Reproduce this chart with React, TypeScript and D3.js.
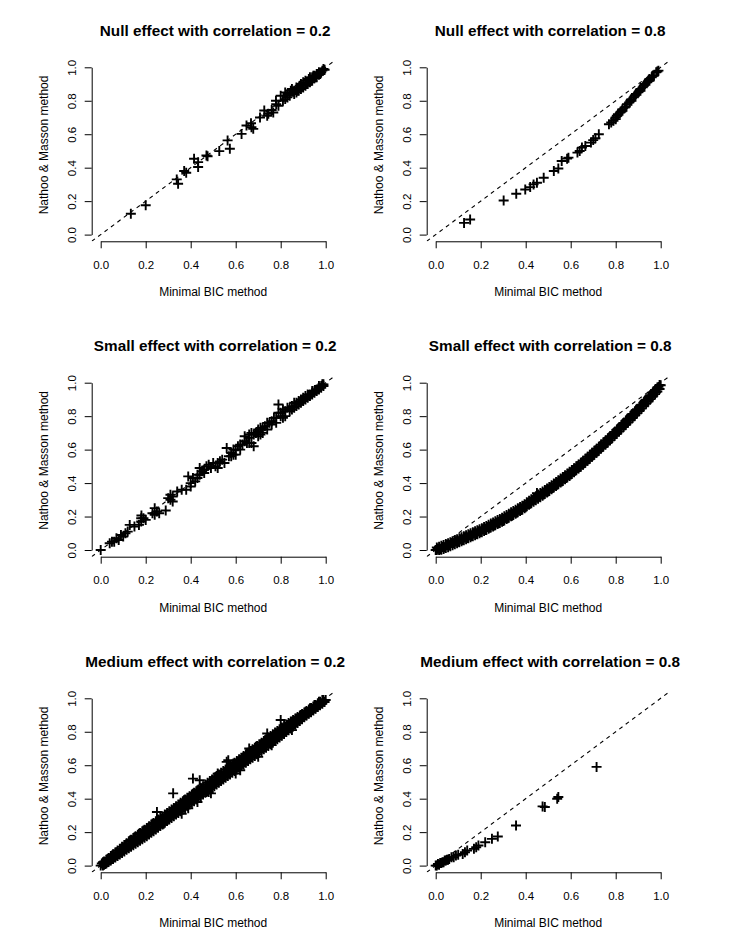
import { useEffect, useRef } from "react";
import * as d3 from "d3";

type Pt = [number, number];

// tick values shared by every panel
const ticks = [0, 0.2, 0.4, 0.6, 0.8, 1.0];
const tickLabels = ["0.0", "0.2", "0.4", "0.6", "0.8", "1.0"];

const titles = [
  "Null effect with correlation = 0.2",
  "Null effect with correlation = 0.8",
  "Small effect with correlation = 0.2",
  "Small effect with correlation = 0.8",
  "Medium effect with correlation = 0.2",
  "Medium effect with correlation = 0.8",
];

const xLabel = "Minimal BIC method";
const yLabel = "Nathoo & Masson method";

// points: [Minimal BIC, Nathoo & Masson]
const nullCorr02: Pt[] = [
  [0.134, 0.125], [0.2, 0.175], [0.338, 0.33], [0.344, 0.304], [0.371, 0.38], [0.38, 0.37],
  [0.415, 0.453], [0.433, 0.433], [0.433, 0.404], [0.47, 0.473], [0.475, 0.468], [0.527, 0.499],
  [0.564, 0.563], [0.574, 0.513], [0.626, 0.602], [0.648, 0.652], [0.668, 0.666], [0.67, 0.642],
  [0.678, 0.632], [0.708, 0.7], [0.727, 0.742], [0.745, 0.722], [0.74, 0.71], [0.767, 0.73],
  [0.779, 0.8], [0.78, 0.78], [0.76, 0.745], [0.79, 0.77], [0.8, 0.83], [0.81, 0.8],
  [0.82, 0.81], [0.82, 0.85], [0.83, 0.82], [0.84, 0.83], [0.845, 0.86], [0.85, 0.87],
  [0.86, 0.84], [0.86, 0.86], [0.87, 0.88], [0.875, 0.86], [0.88, 0.86], [0.885, 0.89],
  [0.89, 0.9], [0.9, 0.88], [0.9, 0.91], [0.91, 0.92], [0.915, 0.9], [0.92, 0.9],
  [0.925, 0.93], [0.93, 0.94], [0.935, 0.92], [0.94, 0.92], [0.945, 0.95], [0.95, 0.95],
  [0.955, 0.94], [0.96, 0.94], [0.965, 0.96], [0.97, 0.97], [0.975, 0.96], [0.98, 0.97],
  [0.985, 0.98], [0.99, 0.99], [0.995, 0.985], [0.97, 0.955], [0.95, 0.935], [0.93, 0.91],
  [0.83, 0.84], [0.87, 0.85], [0.89, 0.87], [0.91, 0.89], [0.94, 0.94], [0.96, 0.96],
];

const nullCorr08: Pt[] = [
  [0.126, 0.07], [0.153, 0.09], [0.302, 0.204], [0.358, 0.244], [0.398, 0.27], [0.42, 0.284],
  [0.435, 0.3], [0.45, 0.31], [0.48, 0.34], [0.525, 0.38], [0.545, 0.395], [0.56, 0.44],
  [0.584, 0.454], [0.59, 0.46], [0.63, 0.49], [0.64, 0.5], [0.65, 0.52], [0.665, 0.53],
  [0.69, 0.55], [0.7, 0.565], [0.71, 0.576], [0.725, 0.6], [0.77, 0.66], [0.78, 0.67],
  [0.79, 0.68], [0.8, 0.7], [0.805, 0.71], [0.81, 0.72], [0.82, 0.73], [0.825, 0.735],
  [0.83, 0.74], [0.84, 0.76], [0.845, 0.765], [0.85, 0.78], [0.86, 0.79], [0.865, 0.8],
  [0.87, 0.81], [0.88, 0.82], [0.885, 0.83], [0.89, 0.84], [0.9, 0.85], [0.905, 0.86],
  [0.91, 0.87], [0.92, 0.88], [0.925, 0.89], [0.93, 0.9], [0.94, 0.91], [0.945, 0.92],
  [0.95, 0.93], [0.96, 0.94], [0.965, 0.95], [0.97, 0.95], [0.98, 0.97], [0.985, 0.975],
  [0.99, 0.98], [0.8, 0.69], [0.83, 0.75], [0.87, 0.8], [0.91, 0.86], [0.95, 0.92],
];

const smallCorr02: Pt[] = [
  [0.0, 0.0], [0.04, 0.04], [0.06, 0.05], [0.07, 0.07], [0.08, 0.06], [0.09, 0.09],
  [0.1, 0.08], [0.11, 0.1], [0.129, 0.15], [0.17, 0.15], [0.18, 0.17], [0.181, 0.206],
  [0.19, 0.19], [0.2, 0.18], [0.24, 0.21], [0.24, 0.25], [0.25, 0.23], [0.26, 0.22],
  [0.289, 0.236], [0.31, 0.3], [0.31, 0.33], [0.32, 0.32], [0.32, 0.29], [0.34, 0.35],
  [0.36, 0.36], [0.38, 0.36], [0.389, 0.44], [0.4, 0.38], [0.4, 0.4], [0.41, 0.43],
  [0.42, 0.41], [0.43, 0.45], [0.44, 0.49], [0.45, 0.47], [0.46, 0.46], [0.47, 0.5],
  [0.48, 0.51], [0.49, 0.49], [0.5, 0.52], [0.51, 0.5], [0.52, 0.49], [0.53, 0.53],
  [0.55, 0.52], [0.56, 0.61], [0.57, 0.56], [0.58, 0.58], [0.59, 0.6], [0.6, 0.57],
  [0.61, 0.62], [0.62, 0.6], [0.64, 0.68], [0.65, 0.64], [0.66, 0.67], [0.67, 0.64],
  [0.68, 0.62], [0.69, 0.7], [0.7, 0.68], [0.71, 0.73], [0.72, 0.7], [0.73, 0.74],
  [0.74, 0.72], [0.75, 0.76], [0.76, 0.75], [0.77, 0.79], [0.78, 0.76], [0.79, 0.82],
  [0.79, 0.87], [0.8, 0.8], [0.81, 0.84], [0.82, 0.8], [0.83, 0.85], [0.84, 0.83],
  [0.85, 0.86], [0.86, 0.85], [0.87, 0.88], [0.88, 0.87], [0.89, 0.9], [0.9, 0.89],
  [0.91, 0.92], [0.92, 0.91], [0.93, 0.93], [0.94, 0.94], [0.95, 0.95], [0.96, 0.95],
  [0.97, 0.97], [0.98, 0.98], [0.99, 0.99], [0.82, 0.83], [0.86, 0.88], [0.9, 0.91],
  [0.94, 0.93], [0.97, 0.96], [0.66, 0.69], [0.7, 0.72], [0.74, 0.76], [0.63, 0.63],
  [0.84, 0.85], [0.85, 0.84], [0.87, 0.86], [0.88, 0.89], [0.89, 0.88], [0.9, 0.9],
  [0.91, 0.9], [0.92, 0.93], [0.93, 0.92], [0.94, 0.95], [0.95, 0.94], [0.96, 0.96],
  [0.97, 0.98], [0.98, 0.97], [0.99, 0.98], [0.985, 0.99], [0.8, 0.82], [0.81, 0.79],
  [0.78, 0.79], [0.76, 0.77], [0.72, 0.73], [0.68, 0.69], [0.67, 0.7], [0.64, 0.65],
  [0.6, 0.6], [0.58, 0.56], [0.54, 0.54], [0.52, 0.52], [0.46, 0.48], [0.44, 0.45],
  [0.43, 0.43], [0.3, 0.31], [0.23, 0.22], [0.18, 0.19], [0.15, 0.14], [0.12, 0.11],
  [0.05, 0.05], [0.62, 0.63], [0.7, 0.71], [0.59, 0.57], [0.66, 0.64], [0.71, 0.69],
];

// centre of the band
const smallCorr08: Pt[] = [
  [0.0, 0.0], [0.01, 0.008], [0.02, 0.005], [0.03, 0.018], [0.04, 0.015], [0.05, 0.03],
  [0.06, 0.028], [0.07, 0.042], [0.08, 0.04], [0.09, 0.053], [0.1, 0.05], [0.11, 0.064],
  [0.12, 0.06], [0.13, 0.076], [0.14, 0.072], [0.15, 0.088], [0.16, 0.084], [0.17, 0.1],
  [0.18, 0.096], [0.19, 0.112], [0.2, 0.108], [0.21, 0.124], [0.22, 0.12], [0.23, 0.137],
  [0.24, 0.133], [0.25, 0.15], [0.26, 0.146], [0.27, 0.164], [0.28, 0.16], [0.29, 0.178],
  [0.3, 0.174], [0.31, 0.193], [0.32, 0.19], [0.33, 0.209], [0.34, 0.205], [0.35, 0.226],
  [0.36, 0.222], [0.37, 0.243], [0.38, 0.239], [0.39, 0.262], [0.4, 0.256], [0.41, 0.28],
  [0.42, 0.276], [0.43, 0.298], [0.44, 0.31], [0.45, 0.34], [0.46, 0.318], [0.47, 0.336],
  [0.48, 0.332], [0.49, 0.355], [0.5, 0.35], [0.51, 0.374], [0.52, 0.37], [0.53, 0.393],
  [0.54, 0.39], [0.55, 0.414], [0.56, 0.41], [0.57, 0.435], [0.58, 0.431], [0.59, 0.456],
  [0.6, 0.452], [0.61, 0.478], [0.62, 0.474], [0.63, 0.5], [0.64, 0.496], [0.65, 0.523],
  [0.66, 0.519], [0.67, 0.546], [0.68, 0.542], [0.69, 0.57], [0.7, 0.566], [0.71, 0.594],
  [0.72, 0.59], [0.73, 0.619], [0.74, 0.615], [0.75, 0.645], [0.76, 0.64], [0.77, 0.671],
  [0.78, 0.667], [0.79, 0.698], [0.8, 0.694], [0.81, 0.725], [0.82, 0.721], [0.83, 0.752],
  [0.84, 0.748], [0.85, 0.78], [0.86, 0.776], [0.87, 0.808], [0.88, 0.804], [0.89, 0.836],
  [0.9, 0.832], [0.91, 0.864], [0.92, 0.86], [0.93, 0.892], [0.94, 0.888], [0.95, 0.92],
  [0.96, 0.916], [0.97, 0.948], [0.98, 0.944], [0.99, 0.975], [1.0, 0.985],
];

// lower and upper edge of the same band
const smallCorr08Low: Pt[] = [
  [0.005, 0], [0.015, 0], [0.025, 0.001], [0.035, 0.006], [0.045, 0.012], [0.055, 0.017],
  [0.065, 0.023], [0.075, 0.028], [0.085, 0.034], [0.095, 0.04], [0.105, 0.046], [0.115, 0.052],
  [0.125, 0.058], [0.135, 0.064], [0.145, 0.07], [0.155, 0.076], [0.165, 0.082], [0.175, 0.088],
  [0.185, 0.094], [0.195, 0.1], [0.205, 0.106], [0.215, 0.113], [0.225, 0.12], [0.235, 0.127],
  [0.245, 0.134], [0.255, 0.141], [0.265, 0.148], [0.275, 0.155], [0.285, 0.162], [0.295, 0.169],
  [0.305, 0.177], [0.315, 0.185], [0.325, 0.193], [0.335, 0.201], [0.345, 0.209], [0.355, 0.217],
  [0.365, 0.225], [0.375, 0.233], [0.385, 0.241], [0.395, 0.25], [0.405, 0.262], [0.415, 0.271],
  [0.425, 0.28], [0.435, 0.289], [0.445, 0.298], [0.455, 0.307], [0.465, 0.316], [0.475, 0.325],
  [0.485, 0.334], [0.495, 0.343], [0.505, 0.353], [0.515, 0.363], [0.525, 0.373], [0.535, 0.383],
  [0.545, 0.393], [0.555, 0.403], [0.565, 0.413], [0.575, 0.423], [0.585, 0.433], [0.595, 0.443],
  [0.605, 0.454], [0.615, 0.465], [0.625, 0.476], [0.635, 0.487], [0.645, 0.498], [0.655, 0.51],
  [0.665, 0.521], [0.675, 0.533], [0.685, 0.545], [0.695, 0.557], [0.705, 0.569], [0.715, 0.581],
  [0.725, 0.593], [0.735, 0.606], [0.745, 0.618], [0.755, 0.631], [0.765, 0.643], [0.775, 0.656],
  [0.785, 0.669], [0.795, 0.682], [0.805, 0.695], [0.815, 0.708], [0.825, 0.722], [0.835, 0.735],
  [0.845, 0.749], [0.855, 0.762], [0.865, 0.776], [0.875, 0.789], [0.885, 0.803], [0.895, 0.817],
  [0.905, 0.831], [0.915, 0.845], [0.925, 0.859], [0.935, 0.874], [0.945, 0.888], [0.955, 0.902],
  [0.965, 0.917], [0.975, 0.932], [0.985, 0.947], [0.995, 0.962],
];

const smallCorr08High: Pt[] = [
  [0.005, 0.015], [0.015, 0.02], [0.025, 0.025], [0.035, 0.03], [0.045, 0.036], [0.055, 0.041],
  [0.065, 0.047], [0.075, 0.052], [0.085, 0.058], [0.095, 0.064], [0.105, 0.07], [0.115, 0.076],
  [0.125, 0.082], [0.135, 0.088], [0.145, 0.094], [0.155, 0.1], [0.165, 0.106], [0.175, 0.112],
  [0.185, 0.118], [0.195, 0.124], [0.205, 0.13], [0.215, 0.137], [0.225, 0.144], [0.235, 0.151],
  [0.245, 0.158], [0.255, 0.165], [0.265, 0.172], [0.275, 0.179], [0.285, 0.186], [0.295, 0.193],
  [0.305, 0.201], [0.315, 0.209], [0.325, 0.217], [0.335, 0.225], [0.345, 0.233], [0.355, 0.241],
  [0.365, 0.249], [0.375, 0.257], [0.385, 0.265], [0.395, 0.274], [0.405, 0.286], [0.415, 0.295],
  [0.425, 0.304], [0.435, 0.313], [0.445, 0.322], [0.455, 0.331], [0.465, 0.34], [0.475, 0.349],
  [0.485, 0.358], [0.495, 0.367], [0.505, 0.377], [0.515, 0.387], [0.525, 0.397], [0.535, 0.407],
  [0.545, 0.417], [0.555, 0.427], [0.565, 0.437], [0.575, 0.447], [0.585, 0.457], [0.595, 0.467],
  [0.605, 0.478], [0.615, 0.489], [0.625, 0.5], [0.635, 0.511], [0.645, 0.522], [0.655, 0.534],
  [0.665, 0.545], [0.675, 0.557], [0.685, 0.569], [0.695, 0.581], [0.705, 0.593], [0.715, 0.605],
  [0.725, 0.617], [0.735, 0.63], [0.745, 0.642], [0.755, 0.655], [0.765, 0.667], [0.775, 0.68],
  [0.785, 0.693], [0.795, 0.706], [0.805, 0.719], [0.815, 0.732], [0.825, 0.746], [0.835, 0.759],
  [0.845, 0.773], [0.855, 0.786], [0.865, 0.8], [0.875, 0.813], [0.885, 0.827], [0.895, 0.841],
  [0.905, 0.855], [0.915, 0.869], [0.925, 0.883], [0.935, 0.898], [0.945, 0.912], [0.955, 0.926],
  [0.965, 0.941], [0.975, 0.956], [0.985, 0.971], [0.995, 0.986],
];

const mediumCorr02: Pt[] = [
  [0.0, 0.0], [0.01, 0.0], [0.01, 0.02], [0.02, 0.01], [0.03, 0.02], [0.03, 0.04], [0.04, 0.03],
  [0.05, 0.04], [0.05, 0.06], [0.06, 0.05], [0.07, 0.06], [0.07, 0.08], [0.08, 0.07], [0.09, 0.08],
  [0.09, 0.1], [0.1, 0.09], [0.11, 0.1], [0.11, 0.12], [0.12, 0.11], [0.13, 0.12], [0.13, 0.15],
  [0.14, 0.13], [0.15, 0.14], [0.15, 0.17], [0.16, 0.15], [0.17, 0.16], [0.17, 0.19], [0.18, 0.17],
  [0.19, 0.18], [0.19, 0.21], [0.2, 0.19], [0.21, 0.2], [0.21, 0.22], [0.22, 0.21], [0.23, 0.22],
  [0.23, 0.25], [0.24, 0.23], [0.25, 0.24], [0.25, 0.27], [0.26, 0.25], [0.27, 0.26], [0.27, 0.28],
  [0.28, 0.27], [0.29, 0.27], [0.29, 0.3], [0.3, 0.29], [0.31, 0.29], [0.31, 0.32], [0.32, 0.31],
  [0.33, 0.32], [0.33, 0.34], [0.34, 0.33], [0.35, 0.33], [0.35, 0.36], [0.36, 0.35], [0.37, 0.36],
  [0.37, 0.39], [0.38, 0.37], [0.39, 0.38], [0.39, 0.4], [0.4, 0.39], [0.41, 0.4], [0.41, 0.43],
  [0.42, 0.41], [0.43, 0.42], [0.43, 0.45], [0.44, 0.43], [0.45, 0.44], [0.45, 0.46], [0.46, 0.45],
  [0.47, 0.44], [0.47, 0.47], [0.48, 0.47], [0.49, 0.48], [0.49, 0.5], [0.5, 0.49], [0.51, 0.5],
  [0.51, 0.53], [0.52, 0.51], [0.53, 0.52], [0.53, 0.54], [0.54, 0.53], [0.55, 0.53], [0.55, 0.56],
  [0.56, 0.55], [0.57, 0.56], [0.57, 0.58], [0.58, 0.57], [0.59, 0.58], [0.59, 0.61], [0.6, 0.59],
  [0.61, 0.6], [0.61, 0.62], [0.62, 0.61], [0.63, 0.61], [0.63, 0.64], [0.64, 0.63], [0.65, 0.64],
  [0.65, 0.67], [0.66, 0.65], [0.67, 0.66], [0.67, 0.68], [0.68, 0.67], [0.69, 0.68], [0.69, 0.71],
  [0.7, 0.69], [0.71, 0.7], [0.71, 0.72], [0.72, 0.71], [0.73, 0.72], [0.73, 0.75], [0.74, 0.73],
  [0.75, 0.74], [0.75, 0.76], [0.76, 0.75], [0.77, 0.76], [0.77, 0.78], [0.78, 0.77], [0.79, 0.78],
  [0.79, 0.8], [0.8, 0.79], [0.81, 0.8], [0.81, 0.82], [0.82, 0.81], [0.83, 0.82], [0.83, 0.84],
  [0.84, 0.83], [0.85, 0.84], [0.85, 0.86], [0.86, 0.85], [0.87, 0.86], [0.87, 0.88], [0.88, 0.87],
  [0.89, 0.88], [0.89, 0.9], [0.9, 0.89], [0.91, 0.9], [0.91, 0.92], [0.92, 0.91], [0.93, 0.92],
  [0.93, 0.94], [0.94, 0.93], [0.95, 0.94], [0.95, 0.96], [0.96, 0.95], [0.97, 0.96], [0.97, 0.98],
  [0.98, 0.97], [0.99, 0.98], [0.99, 0.99], [1.0, 0.99],
  // stragglers off the band
  [0.322, 0.432], [0.41, 0.52], [0.44, 0.51], [0.25, 0.32], [0.567, 0.63], [0.56, 0.62],
  [0.8, 0.87], [0.389, 0.343], [0.43, 0.38], [0.49, 0.432], [0.48, 0.44], [0.36, 0.31],
  [0.28, 0.25], [0.62, 0.57], [0.6, 0.55], [0.7, 0.65], [0.76, 0.72], [0.85, 0.81],
  [0.74, 0.79], [0.52, 0.55], [0.66, 0.7],
];

const mediumCorr02Low: Pt[] = [
  [0.015, 0.005], [0.025, 0.013], [0.035, 0.022], [0.045, 0.031], [0.055, 0.04], [0.065, 0.049],
  [0.075, 0.058], [0.085, 0.067], [0.095, 0.076], [0.105, 0.085], [0.115, 0.094], [0.125, 0.103],
  [0.135, 0.112], [0.145, 0.121], [0.155, 0.13], [0.165, 0.139], [0.175, 0.148], [0.185, 0.157],
  [0.195, 0.166], [0.205, 0.176], [0.215, 0.186], [0.225, 0.196], [0.235, 0.206], [0.245, 0.216],
  [0.255, 0.226], [0.265, 0.236], [0.275, 0.246], [0.285, 0.256], [0.295, 0.266], [0.305, 0.275],
  [0.315, 0.285], [0.325, 0.295], [0.335, 0.305], [0.345, 0.315], [0.355, 0.325], [0.365, 0.335],
  [0.375, 0.345], [0.385, 0.355], [0.395, 0.365], [0.405, 0.375], [0.415, 0.385], [0.425, 0.395],
  [0.435, 0.405], [0.445, 0.415], [0.455, 0.425], [0.465, 0.435], [0.475, 0.445], [0.485, 0.455],
  [0.495, 0.465], [0.505, 0.475], [0.515, 0.485], [0.525, 0.495], [0.535, 0.505], [0.545, 0.515],
  [0.555, 0.525], [0.565, 0.535], [0.575, 0.545], [0.585, 0.555], [0.595, 0.565], [0.605, 0.575],
  [0.615, 0.585], [0.625, 0.595], [0.635, 0.605], [0.645, 0.615], [0.655, 0.625], [0.665, 0.635],
  [0.675, 0.645], [0.685, 0.655], [0.695, 0.665], [0.705, 0.675], [0.715, 0.685], [0.725, 0.695],
  [0.735, 0.705], [0.745, 0.715], [0.755, 0.725], [0.765, 0.735], [0.775, 0.745], [0.785, 0.755],
  [0.795, 0.765], [0.805, 0.776], [0.815, 0.787], [0.825, 0.798], [0.835, 0.809], [0.845, 0.82],
  [0.855, 0.831], [0.865, 0.842], [0.875, 0.853], [0.885, 0.864], [0.895, 0.875], [0.905, 0.886],
  [0.915, 0.897], [0.925, 0.907], [0.935, 0.917], [0.945, 0.927], [0.955, 0.937], [0.965, 0.948],
  [0.975, 0.958], [0.985, 0.968], [0.995, 0.978],
];

const mediumCorr02High: Pt[] = [
  [0.005, 0.013], [0.015, 0.024], [0.025, 0.035], [0.035, 0.046], [0.045, 0.057], [0.055, 0.068],
  [0.065, 0.079], [0.075, 0.09], [0.085, 0.101], [0.095, 0.112], [0.105, 0.123], [0.115, 0.134],
  [0.125, 0.145], [0.135, 0.155], [0.145, 0.165], [0.155, 0.175], [0.165, 0.185], [0.175, 0.195],
  [0.185, 0.205], [0.195, 0.215], [0.205, 0.225], [0.215, 0.235], [0.225, 0.245], [0.235, 0.255],
  [0.245, 0.265], [0.255, 0.275], [0.265, 0.285], [0.275, 0.295], [0.285, 0.305], [0.295, 0.315],
  [0.305, 0.325], [0.315, 0.335], [0.325, 0.345], [0.335, 0.355], [0.345, 0.365], [0.355, 0.375],
  [0.365, 0.385], [0.375, 0.395], [0.385, 0.405], [0.395, 0.415], [0.405, 0.425], [0.415, 0.435],
  [0.425, 0.445], [0.435, 0.455], [0.445, 0.465], [0.455, 0.475], [0.465, 0.485], [0.475, 0.495],
  [0.485, 0.505], [0.495, 0.515], [0.505, 0.525], [0.515, 0.535], [0.525, 0.545], [0.535, 0.555],
  [0.545, 0.565], [0.555, 0.575], [0.565, 0.585], [0.575, 0.595], [0.585, 0.605], [0.595, 0.615],
  [0.605, 0.625], [0.615, 0.635], [0.625, 0.645], [0.635, 0.655], [0.645, 0.665], [0.655, 0.675],
  [0.665, 0.685], [0.675, 0.695], [0.685, 0.705], [0.695, 0.715], [0.705, 0.725], [0.715, 0.735],
  [0.725, 0.745], [0.735, 0.755], [0.745, 0.765], [0.755, 0.775], [0.765, 0.785], [0.775, 0.795],
  [0.785, 0.805], [0.795, 0.815], [0.805, 0.825], [0.815, 0.834], [0.825, 0.843], [0.835, 0.852],
  [0.845, 0.861], [0.855, 0.87], [0.865, 0.879], [0.875, 0.888], [0.885, 0.897], [0.895, 0.906],
  [0.905, 0.915], [0.915, 0.924], [0.925, 0.933], [0.935, 0.942], [0.945, 0.951], [0.955, 0.96],
  [0.965, 0.97], [0.975, 0.98], [0.985, 0.99],
];

const mediumCorr08: Pt[] = [
  [0.0, 0.0], [0.005, 0.0], [0.01, 0.01], [0.015, 0.005], [0.02, 0.015], [0.025, 0.015],
  [0.03, 0.02], [0.035, 0.02], [0.04, 0.03], [0.045, 0.03], [0.05, 0.035], [0.055, 0.035],
  [0.06, 0.04], [0.07, 0.05], [0.08, 0.05], [0.09, 0.06], [0.1, 0.065], [0.12, 0.07],
  [0.13, 0.08], [0.14, 0.09], [0.17, 0.1], [0.18, 0.11], [0.19, 0.12], [0.22, 0.14],
  [0.25, 0.16], [0.276, 0.174], [0.357, 0.24], [0.475, 0.354], [0.485, 0.35], [0.54, 0.4],
  [0.545, 0.41], [0.715, 0.59],
];

const panels: Pt[][][] = [
  [nullCorr02],
  [nullCorr08],
  [smallCorr02],
  [smallCorr08, smallCorr08Low, smallCorr08High],
  [mediumCorr02, mediumCorr02Low, mediumCorr02High],
  [mediumCorr08],
];

const font = "'Liberation Sans', Arial, Helvetica, sans-serif";

const Charts = () => {
  const ref = useRef<SVGSVGElement>(null);

  useEffect(() => {
    const svg = d3.select(ref.current);
    svg.selectAll("*").remove();

    // where 0 and 1 land for each column / row
    const colX0 = [100.7, 435.7];
    const rowY1 = [67.3, 382.7, 698.3];
    const unitW = 225;
    const unitH = 167.3;

    panels.forEach((sets, i) => {
      const pts = sets.flat();
      const col = i % 2;
      const row = Math.floor(i / 2);
      const x = d3.scaleLinear().domain([0, 1]).range([colX0[col], colX0[col] + unitW]);
      const y = d3.scaleLinear().domain([0, 1]).range([rowY1[row] + unitH, rowY1[row]]);

      const left = x(-0.04), right = x(1.04), top = y(1.04), bottom = y(-0.04);
      const g = svg.append("g");

      const clipId = `clip${i}`;
      g.append("clipPath").attr("id", clipId)
        .append("rect")
        .attr("x", left).attr("y", top)
        .attr("width", right - left).attr("height", bottom - top);

      // title
      g.append("text")
        .attr("x", (left + right) / 2 + 2)
        .attr("y", top - 24.6)
        .attr("text-anchor", "middle")
        .attr("font-family", font)
        .attr("font-weight", "bold")
        .attr("font-size", 15.3)
        .text(titles[i]);

      // x axis
      const xAxis = g.append("g")
        .attr("transform", `translate(0,${bottom})`)
        .call(d3.axisBottom(x).tickValues(ticks).tickSize(7).tickSizeOuter(0)
          .tickFormat((_, j) => tickLabels[j]));
      xAxis.select(".domain").attr("stroke", "#000");
      xAxis.selectAll("text")
        .attr("y", 23.5).attr("dy", "0.35em")
        .attr("font-family", font).attr("font-size", 11.5).attr("fill", "#000");

      // y axis with vertical labels
      const yAxis = g.append("g")
        .attr("transform", `translate(${left},0)`)
        .call(d3.axisLeft(y).tickValues(ticks).tickSize(7).tickSizeOuter(0)
          .tickFormat((_, j) => tickLabels[j]));
      yAxis.select(".domain").attr("stroke", "#000");
      yAxis.selectAll("text")
        .attr("x", 0).attr("dy", null)
        .attr("transform", "translate(-20,0) rotate(-90)")
        .attr("text-anchor", "middle")
        .attr("dominant-baseline", "central")
        .attr("font-family", font).attr("font-size", 11.5).attr("fill", "#000");

      // axis titles
      g.append("text")
        .attr("x", x(0.5))
        .attr("y", bottom + 51)
        .attr("text-anchor", "middle")
        .attr("dominant-baseline", "central")
        .attr("font-family", font)
        .attr("font-size", 12)
        .text(xLabel);

      g.append("text")
        .attr("transform", `translate(${left - 48},${y(0.5) - 6}) rotate(-90)`)
        .attr("text-anchor", "middle")
        .attr("dominant-baseline", "central")
        .attr("font-family", font)
        .attr("font-size", 12)
        .text(yLabel);

      const inner = g.append("g").attr("clip-path", `url(#${clipId})`);

      // identity line
      inner.append("line")
        .attr("x1", x(-0.04)).attr("y1", y(-0.04))
        .attr("x2", x(1.04)).attr("y2", y(1.04))
        .attr("stroke", "#000")
        .attr("stroke-width", 1.1)
        .attr("stroke-dasharray", "4,4");

      // + markers
      inner.selectAll("path.pt")
        .data(pts)
        .join("path")
        .attr("class", "pt")
        .attr("transform", d => `translate(${x(d[0])},${y(d[1])})`)
        .attr("d", "M-5,0H5M0,-5V5")
        .attr("stroke", "#000")
        .attr("stroke-width", 1.9)
        .attr("fill", "none");
    });
  }, []);

  return <svg ref={ref} width={732} height={947} style={{ position: "absolute", left: 0, top: 0, background: "#fff" }}></svg>;
};

export default function App() {
  return <Charts />;
}
